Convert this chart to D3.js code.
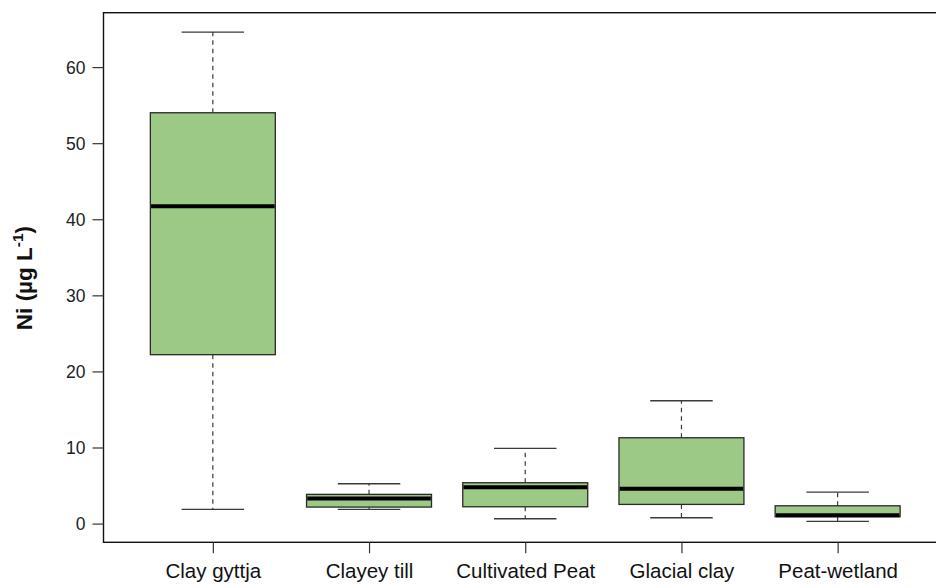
<!DOCTYPE html>
<html>
<head>
<meta charset="utf-8">
<script src="https://cdn.jsdelivr.net/npm/d3@7"></script>
<style>
  html, body { margin: 0; padding: 0; background: #fff; }
  svg { display: block; font-family: "Liberation Sans", Arial, sans-serif; }
</style>
</head>
<body>
<svg id="chart" width="936" height="588"></svg>
<script>
// Ni concentrations by soil type: five-number summaries per category
const categories = ["Clay gyttja", "Clayey till", "Cultivated Peat", "Glacial clay", "Peat-wetland"];
const whiskerLow = [1.87, 1.87, 0.63, 0.76, 0.29];
const q1         = [22.2, 2.17, 2.21, 2.52, 0.90];
const median     = [41.7, 3.31, 4.76, 4.57, 1.08];
const q3         = [54.0, 3.84, 5.37, 11.28, 2.34];
const whiskerHigh= [64.6, 5.23, 9.88, 16.14, 4.14];
const yTicks = [0, 10, 20, 30, 40, 50, 60];

const boxes = categories.map((c, i) => ({
  name: c, pos: i + 1,
  lo: whiskerLow[i], q1: q1[i], med: median[i], q3: q3[i], hi: whiskerHigh[i]
}));

const svg = d3.select("#chart");

// plot region (right edge of the frame runs past the page edge)
const plotLeft = 103.5, plotTop = 12.7, plotBottom = 542.3;
const x = d3.scaleLinear().domain([0.3, 5.7]).range([plotLeft, plotLeft + 5.4 * 156.2]);
const y = d3.scaleLinear().domain([-2.46, 67.15]).range([plotBottom, plotTop]);
const plotRight = x(5.7);

const boxHalf = 0.4, capHalf = 0.2;
const fill = "#9cc986";

const g = svg.append("g");

// whiskers (dashed)
g.selectAll(".whisk-hi").data(boxes).join("line")
  .attr("x1", d => x(d.pos)).attr("x2", d => x(d.pos))
  .attr("y1", d => y(d.q3)).attr("y2", d => y(d.hi))
  .attr("stroke", "#3a3a3a").attr("stroke-width", 1.2).attr("stroke-dasharray", "4.5,4");
g.selectAll(".whisk-lo").data(boxes).join("line")
  .attr("x1", d => x(d.pos)).attr("x2", d => x(d.pos))
  .attr("y1", d => y(d.q1)).attr("y2", d => y(d.lo))
  .attr("stroke", "#3a3a3a").attr("stroke-width", 1.2).attr("stroke-dasharray", "4.5,4");

// staples
["hi", "lo"].forEach(k => {
  g.selectAll(".cap-" + k).data(boxes).join("line")
    .attr("x1", d => x(d.pos - capHalf)).attr("x2", d => x(d.pos + capHalf))
    .attr("y1", d => y(d[k])).attr("y2", d => y(d[k]))
    .attr("stroke", "#3a3a3a").attr("stroke-width", 1.4);
});

// boxes
g.selectAll(".box").data(boxes).join("rect")
  .attr("x", d => x(d.pos - boxHalf))
  .attr("width", d => x(d.pos + boxHalf) - x(d.pos - boxHalf))
  .attr("y", d => y(d.q3))
  .attr("height", d => y(d.q1) - y(d.q3))
  .attr("fill", fill).attr("stroke", "#2a2a2a").attr("stroke-width", 1.3);

// medians
g.selectAll(".med").data(boxes).join("line")
  .attr("x1", d => x(d.pos - boxHalf) + 0.7).attr("x2", d => x(d.pos + boxHalf) - 0.7)
  .attr("y1", d => y(d.med)).attr("y2", d => y(d.med))
  .attr("stroke", "#000").attr("stroke-width", 4);

// frame
svg.append("rect")
  .attr("x", plotLeft).attr("y", plotTop)
  .attr("width", plotRight - plotLeft).attr("height", plotBottom - plotTop)
  .attr("fill", "none").attr("stroke", "#111").attr("stroke-width", 1.4);

// y axis
const yAxis = d3.axisLeft(y).tickValues(yTicks).tickSize(11).tickPadding(7).tickFormat(d3.format("d"));
const ya = svg.append("g").attr("transform", `translate(${plotLeft},0)`).call(yAxis);
ya.select(".domain").remove();
ya.selectAll(".tick line").attr("stroke", "#333").attr("stroke-width", 1.2);
ya.selectAll(".tick text").attr("font-size", 17.5).attr("fill", "#222")
  .attr("font-family", "Liberation Sans, Arial, sans-serif").attr("dy", "0.35em");

// x axis
const xAxis = d3.axisBottom(x).tickValues(boxes.map(d => d.pos)).tickSize(11).tickPadding(10)
  .tickFormat((d, i) => categories[i]);
const xa = svg.append("g").attr("transform", `translate(0,${plotBottom})`).call(xAxis);
xa.select(".domain").remove();
xa.selectAll(".tick line").attr("stroke", "#333").attr("stroke-width", 1.2);
xa.selectAll(".tick text").attr("font-size", 20.5).attr("fill", "#111")
  .attr("font-family", "Liberation Sans, Arial, sans-serif").attr("dy", "0.71em");

// y title
const yt = svg.append("text")
  .attr("transform", `translate(31.5,${(plotTop + plotBottom) / 2 + 0.5}) rotate(-90)`)
  .attr("text-anchor", "middle")
  .attr("font-weight", "bold").attr("font-size", 22.5).attr("fill", "#111");
yt.append("tspan").text("Ni (µg L");
yt.append("tspan").text("-1").attr("font-size", 15.5).attr("dy", "-0.55em");
yt.append("tspan").text(")").attr("dy", "0.37em");
</script>
</body>
</html>
